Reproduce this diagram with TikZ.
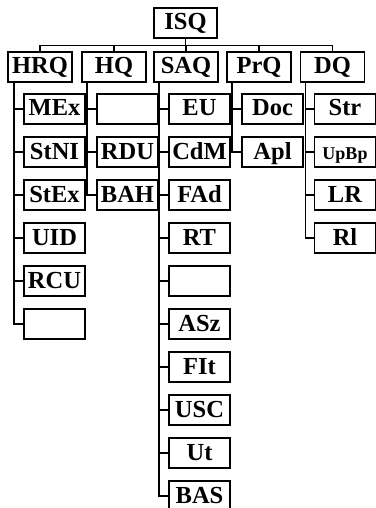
\documentclass[tikz,border=0pt]{standalone}
\usepackage{fontspec}
\setmainfont{Liberation Serif}
\usepackage{tikz}
\usetikzlibrary{positioning}
\tikzset{
  qbox/.style={rectangle,draw,line width=1.6pt,font=\fontsize{24.5}{24.5}\selectfont\bfseries,
    inner sep=0pt,text height=16pt,text depth=2pt,minimum height=29.5pt},
  topbox/.style={qbox,minimum width=63pt},
  grpbox/.style={qbox,minimum width=64pt},
  itembox/.style={qbox,minimum width=61pt,minimum height=30pt},
  bus/.style={line width=1.3pt},
  trunk/.style={line width=1.5pt},
  heavytrunk/.style={line width=2.4pt}
}

\begin{document}
\begin{tikzpicture}[x=1pt,y=-1pt]
\useasboundingbox (0,0) rectangle (375,508);
% top and group boxes
\node[topbox] (isq) at (185.5,23) {ISQ};
\node[grpbox] (hrq) at (40,67) {HRQ};
\node[grpbox] (hq) at (114,67) {HQ};
\node[grpbox] (saq) at (186,67) {SAQ};
\node[grpbox] (prq) at (259,67) {PrQ};
\node[grpbox] (dq) at (332.5,67) {DQ};
\coordinate (bus) at (185.5,45.5);
\draw[bus] (isq.south) -- (bus);
\draw[bus] (hrq.north) |- (bus) -| (dq.north);
\foreach \g in {hq,saq,prq}
  \draw[bus] (\g.north) -- (\g.north |- bus);
% item columns
\foreach \t [count=\i from 0] in {MEx,StNI,StEx,UID,RCU,{}} {
  \node[itembox] (hrq-\i) at (54.5,109+43*\i) {\t};
  \draw[heavytrunk] ([xshift=7pt]hrq.south west) |- (hrq-\i.west);
}
\foreach \t [count=\i from 0] in {{},RDU,BAH} {
  \node[itembox] (hq-\i) at (127.5,109+43*\i) {\t};
  \draw[trunk] ([xshift=6pt]hq.south west) |- (hq-\i.west);
}
\foreach \t [count=\i from 0] in {EU,CdM,FAd,RT,{},ASz,FIt,USC,Ut,BAS} {
  \node[itembox] (saq-\i) at (199.5,109+43*\i) {\t};
  \draw[heavytrunk] ([xshift=6pt]saq.south west) |- (saq-\i.west);
}
\foreach \t [count=\i from 0] in {Doc,Apl} {
  \node[itembox] (prq-\i) at (272.5,109+43*\i) {\t};
  \draw[trunk] ([xshift=6pt]prq.south west) |- (prq-\i.west);
}
\foreach \t [count=\i from 0] in {Str,{\fontsize{18}{18}\selectfont UpBp},LR,Rl} {
  \node[itembox] (dq-\i) at (345,109+43*\i) {\t};
  \draw[trunk] ([xshift=6pt]dq.south west) |- (dq-\i.west);
}
\end{tikzpicture}
\end{document}
